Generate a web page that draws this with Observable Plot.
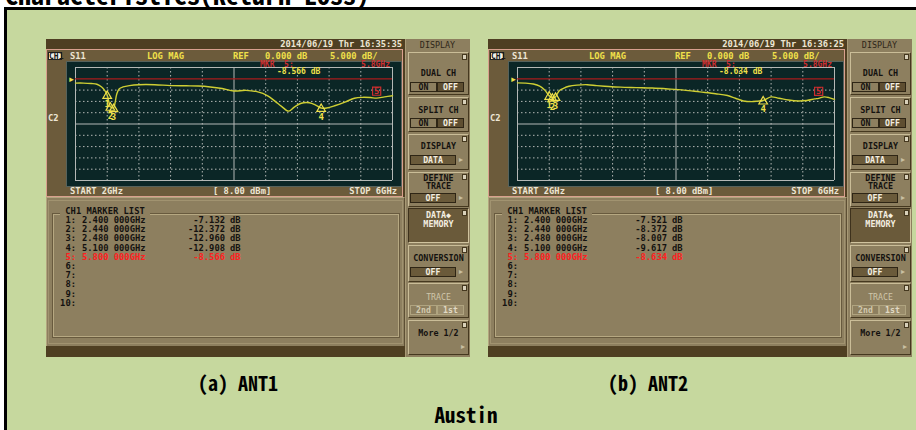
<!DOCTYPE html>
<html><head><meta charset="utf-8">
<script src="https://cdn.jsdelivr.net/npm/d3@7"></script>
<script src="https://cdn.jsdelivr.net/npm/@observablehq/plot@0.6"></script>
<style>
html,body{margin:0;padding:0;background:#fff;}
#page{position:relative;width:916px;height:430px;overflow:hidden;background:#fff;}
.a{position:absolute;white-space:pre;box-sizing:border-box;}
.m{font-family:"DejaVu Sans Mono","Liberation Mono",monospace;font-weight:bold;font-size:8.8px;}
.cap{font-family:"Noto Sans Mono CJK JP","Noto Sans CJK JP",sans-serif;font-weight:bold;color:#000;}
</style></head><body><div id="page"></div>
<script>
// ---------------- data ----------------
const titleText = "Characteristics(Return Loss)";
const groupLabel = "Austin";
const panelLabels = ["(a) ANT1", "(b) ANT2"];
const stamps = ["2014/06/19 Thr 16:35:35", "2014/06/19 Thr 16:36:25"];

const traceFreq1 = [2.00,2.10,2.20,2.27,2.33,2.37,2.40,2.42,2.44,2.46,2.48,2.50,2.52,2.55,2.60,2.68,2.80,3.00,3.20,3.40,3.55,3.70,3.85,4.00,4.15,4.30,4.42,4.52,4.60,4.69,4.76,4.85,4.95,5.03,5.10,5.17,5.28,5.40,5.52,5.62,5.72,5.80,5.90,6.00];
const traceDb1   = [-1.9,-1.9,-2.1,-2.4,-3.6,-5.2,-7.132,-10.0,-12.372,-12.8,-12.960,-10.5,-6.8,-4.5,-3.6,-3.0,-2.6,-2.6,-3.0,-3.1,-3.2,-3.6,-4.3,-5.4,-5.1,-5.8,-7.4,-10.0,-12.2,-14.3,-12.5,-10.8,-10.6,-11.6,-12.908,-12.9,-11.8,-10.3,-8.6,-8.2,-8.3,-8.566,-8.0,-7.5];

const traceFreq2 = [2.00,2.10,2.20,2.28,2.34,2.38,2.40,2.42,2.44,2.46,2.48,2.50,2.53,2.58,2.65,2.75,2.88,3.00,3.15,3.30,3.50,3.70,3.90,4.10,4.30,4.50,4.65,4.75,4.85,4.95,5.03,5.10,5.20,5.30,5.42,5.55,5.65,5.75,5.80,5.87,5.93,6.00];
const traceDb2   = [-1.8,-1.9,-2.3,-3.2,-4.8,-6.6,-7.521,-8.1,-8.372,-8.3,-8.007,-6.8,-5.2,-4.2,-3.3,-2.8,-2.6,-3.0,-3.4,-3.7,-3.9,-4.1,-4.5,-5.0,-5.8,-6.6,-7.4,-8.6,-9.8,-10.1,-9.9,-9.617,-8.0,-8.6,-9.4,-9.8,-9.6,-8.9,-8.634,-8.0,-8.3,-9.1];

const markerFreq = [2.40, 2.44, 2.48, 5.10, 5.80];
const markerDb1 = [-7.132, -12.372, -12.960, -12.908, -8.566];
const markerDb2 = [-7.521, -8.372, -8.007, -9.617, -8.634];

const gridFreq = [2.0, 2.4, 2.8, 3.2, 3.6, 4.0, 4.4, 4.8, 5.2, 5.6, 6.0];
const gridDb = [5, 0, -5, -10, -15, -20, -25, -30, -35, -40, -45];
const refDb = [0];
const refLevel = "0.000 dB";
const scaleDiv = "5.000 dB/";
const sourcePower = [8.00];

// ---------------- colours ----------------
const C = {
  green: "#c6d89e", darkbar: "#4f3f22", screen: "#6c5b3b", pink: "#d9a08e",
  panel: "#8d7f5f", light: "#c2b591", dark: "#4b3d24", plotBg: "#0b2626",
  grid: "#b4b8b6", trace: "#cfcf34", yellow: "#f0e04a", ref: "#a81c1c",
  mred: "#cc2e2e", listRed: "#ff2020", pale: "#ece5d3", ink: "#141210"
};

const page = document.getElementById("page");
function div(x, y, w, h, css, text, cls) {
  const d = document.createElement("div");
  d.className = "a " + (cls || "");
  d.style.cssText = `left:${x}px;top:${y}px;width:${w}px;height:${h}px;line-height:${h}px;` + (css || "");
  if (text != null) d.textContent = text;
  page.appendChild(d);
  return d;
}
function txt(x, cy, text, color, align, extra, h) {
  h = h || 10;
  let left = x, w = 300, ta = "left";
  if (align === "r") { left = x - 300; ta = "right"; }
  if (align === "c") { left = x - 150; ta = "center"; }
  return div(left, cy - h / 2, w, h, `color:${color};text-align:${ta};` + (extra || ""), text, "m");
}

// title + frame
div(5, -19, 600, 26, "font-size:26px;letter-spacing:0px;", titleText, "cap");
div(4, 7, 960, 460, `background:${C.green};border-left:3px solid #000;border-top:3px solid #000;`);

function screenPlot(tf, td, mdb) {
  const trace = tf.map((f, i) => ({f, db: td[i]}));
  const mk = markerFreq.map((f, i) => ({f, db: mdb[i], n: String(i + 1)}));
  const normal = mk.slice(0, 4), active = mk.slice(4);
  const last = gridFreq.length - 1, mid = Math.floor(last / 2);
  const solidF = gridFreq.filter((d, i) => i === 0 || i === last || i === mid);
  const dotF = gridFreq.filter((d, i) => !(i === 0 || i === last || i === mid));
  const lastY = gridDb.length - 1, midY = Math.floor(lastY / 2);
  const solidY = gridDb.filter((d, i) => i === 0 || i === lastY || i === midY);
  const dotY = gridDb.filter((d, i) => !(i === 0 || i === lastY || i === midY) && !refDb.includes(d));
  const mono = "DejaVu Sans Mono, monospace";
  return Plot.plot({
    width: 334, height: 124,
    marginLeft: 8, marginRight: 9, marginTop: 5, marginBottom: 6,
    x: {domain: [gridFreq[0], gridFreq[last]], axis: null},
    y: {domain: [gridDb[lastY], gridDb[0]], axis: null},
    style: {background: C.plotBg, overflow: "visible"},
    marks: [
      Plot.ruleX(dotF, {stroke: C.grid, strokeWidth: 1, strokeDasharray: "1.5,2.5"}),
      Plot.ruleY(dotY, {stroke: C.grid, strokeWidth: 1, strokeDasharray: "1.5,2.5"}),
      Plot.ruleX(solidF, {stroke: C.grid, strokeWidth: 1}),
      Plot.ruleY(solidY, {stroke: C.grid, strokeWidth: 1}),
      Plot.ruleY(refDb, {stroke: C.ref, strokeWidth: 1.3}),
      Plot.text(refDb, {x: () => gridFreq[0], y: d => d, text: () => "▸", fill: C.yellow, dx: -4, fontSize: 9, fontFamily: "DejaVu Sans"}),
      Plot.line(trace, {x: "f", y: "db", stroke: C.trace, strokeWidth: 1.4, curve: "catmull-rom"}),
      Plot.dot(normal, {x: "f", y: "db", symbol: "triangle", r: 3.2, stroke: C.yellow, fill: "none", strokeWidth: 1.2, dy: 1}),
      Plot.text(normal, {x: "f", y: "db", text: "n", dy: 9, fill: C.yellow, fontSize: 9, fontWeight: "bold", fontFamily: mono}),
      Plot.dot(active, {x: "f", y: "db", symbol: "square", r: 4.6, stroke: C.mred, fill: "none", strokeWidth: 1.2, dy: -7}),
      Plot.text(active, {x: "f", y: "db", text: "n", dy: -7, fill: C.mred, fontSize: 9, fontWeight: "bold", fontFamily: mono})
    ]
  });
}

function analyzer(ox, stamp, tf, td, mdb) {
  div(46 + ox, 39, 424, 318, `background:${C.darkbar};`);
  txt(402 + ox, 44, stamp, C.pale, "r");
  div(46 + ox, 49, 357, 148, `background:${C.screen};border:1px solid ${C.pink};`);
  div(48 + ox, 52, 14, 8, `background:#f3f0e8;color:#1a1a1a;font-size:8px;line-height:7px;text-align:center;border:1px solid #222;`, "CH1", "m");
  txt(70 + ox, 56, "S11", C.pale, "l");
  txt(147 + ox, 56, "LOG MAG", C.yellow, "l");
  txt(233 + ox, 56, "REF", C.yellow, "l");
  txt(265 + ox, 56, refLevel, C.yellow, "l");
  txt(330 + ox, 56, scaleDiv, C.yellow, "l");
  txt(48 + ox, 118, "C2", C.pale, "l");
  const holder = div(67 + ox, 62, 334, 124, `outline:1px solid #56625c;`);
  const svg = screenPlot(tf, td, mdb);
  svg.style.display = "block";
  holder.appendChild(svg);
  txt(260 + ox, 65, "MKR  5:", C.mred, "l", "font-size:8px;");
  txt(277 + ox, 72, `${mdb[4].toFixed(3)} dB`, C.yellow, "l", "font-size:8px;");
  txt(390 + ox, 65, `${markerFreq[4]}GHz`, C.mred, "r", "font-size:8px;");
  txt(70 + ox, 191, `START ${gridFreq[0]}GHz`, C.pale, "l");
  txt(213 + ox, 191, `[ ${sourcePower[0].toFixed(2)} dBm]`, C.pale, "l");
  txt(397 + ox, 191, `STOP ${gridFreq[gridFreq.length - 1]}GHz`, C.pale, "r");

  div(46 + ox, 197, 359, 149, `background:${C.panel};border-top:1px solid #b3a57f;border-left:1px solid #b3a57f;border-right:1px solid #5d4f34;`);
  div(48 + ox, 200, 355, 144, `border:1px solid #a19370;`);
  div(52 + ox, 213, 348, 125, `border:1px solid #685a3e;`);
  div(53 + ox, 214, 346, 123, `border:1px solid #b6a882;`);
  txt(60 + ox, 211, " CH1 MARKER LIST ", C.ink, "l", `width:auto;background:${C.panel};`);
  for (let i = 0; i < 10; i++) {
    const cy = 220 + i * 9.2;
    const col = i === 4 ? C.listRed : C.ink;
    txt(76 + ox, cy, `${i + 1}:`, col, "r");
    if (i < markerFreq.length) {
      txt(82 + ox, cy, `${markerFreq[i].toFixed(3)} 000GHz`, col, "l");
      txt(225 + ox, cy, mdb[i].toFixed(3), col, "r");
      txt(230 + ox, cy, "dB", col, "l");
    }
  }
  div(405 + ox, 39, 65, 318, `background:${C.panel};border-left:1px solid #a89a76;`);
  txt(437.5 + ox, 45, "DISPLAY", "#2e2618", "c", "font-weight:normal;font-size:8.4px;");
  const btns = [[52, 43], [97, 35], [134, 36], [172, 35], [208, 35], [245, 37], [283, 35], [320, 35]];
  btns.forEach(([t, h], i) => {
    const pressed = i === 4;
    div(408 + ox, t, 61, h, `background:${pressed ? "#6a5a3a" : C.panel};border:1px solid;border-color:${pressed ? "#3d311c #d0c39e #d0c39e #3d311c" : "#cabd98 #45381f #45381f #cabd98"};`);
    div(462 + ox, t + 2, 5, 6, `background:#d9d1ba;border:1px solid #45381f;`);
  });
  const cx = 438.5 + ox;
  const bold = "font-size:8.4px;";
  function toggle(y, a, b, dim) {
    div(410 + ox, y, 27, 10, `background:${C.panel};border:1px solid ${dim ? "#b0a480" : "#2e2515"};color:${dim ? "#d2c9ae" : C.ink};text-align:center;font-size:8.2px;line-height:8px;`, a, "m");
    div(437 + ox, y, 27, 10, `background:${dim ? "#9a8c6b" : "#5e4e31"};border:1px solid ${dim ? "#b0a480" : "#2e2515"};color:${dim ? "#e0d9c4" : "#f3eee0"};text-align:center;font-size:8.2px;line-height:8px;`, b, "m");
  }
  function valbox(y, v) {
    div(410 + ox, y, 46, 10, `background:#6a5a3a;border:1px solid #2e2515;color:#f3eee0;text-align:center;font-size:8.2px;line-height:8px;`, v, "m");
    txt(459 + ox, y + 5, "▸", "#c9c0a2", "l", "font-family:'DejaVu Sans';font-weight:normal;font-size:8px;");
  }
  txt(cx, 73, "DUAL CH", C.ink, "c", bold); toggle(82, "ON", "OFF");
  txt(cx, 110, "SPLIT CH", C.ink, "c", bold); toggle(118, "ON", "OFF");
  txt(cx, 146, "DISPLAY", C.ink, "c", bold); valbox(155, "DATA");
  txt(cx, 178, "DEFINE", C.ink, "c", bold); txt(cx, 186, "TRACE", C.ink, "c", bold); valbox(193, "OFF");
  txt(cx, 215, "DATA◆", "#f3eee0", "c", bold); txt(cx, 224, "MEMORY", "#f3eee0", "c", bold);
  txt(cx, 258, "CONVERSION", C.ink, "c", bold); valbox(267, "OFF");
  txt(cx, 297, "TRACE", "#cfc6aa", "c", "font-weight:normal;font-size:8.2px;"); toggle(305, "2nd", "1st", true);
  txt(cx, 333, "More 1/2", C.ink, "c", bold);
  txt(461 + ox, 347, "▸", "#c9c0a2", "l", "font-family:'DejaVu Sans';font-weight:normal;font-size:8px;");
}

analyzer(0, stamps[0], traceFreq1, traceDb1, markerDb1);
analyzer(442, stamps[1], traceFreq2, traceDb2, markerDb2);

div(238 - 100, 372, 200, 22, "font-size:20px;text-align:center;", panelLabels[0], "cap");
div(648 - 100, 372, 200, 22, "font-size:20px;text-align:center;", panelLabels[1], "cap");
div(466 - 100, 402, 200, 24, "font-size:21px;text-align:center;", groupLabel, "cap");
</script>
</body></html>
